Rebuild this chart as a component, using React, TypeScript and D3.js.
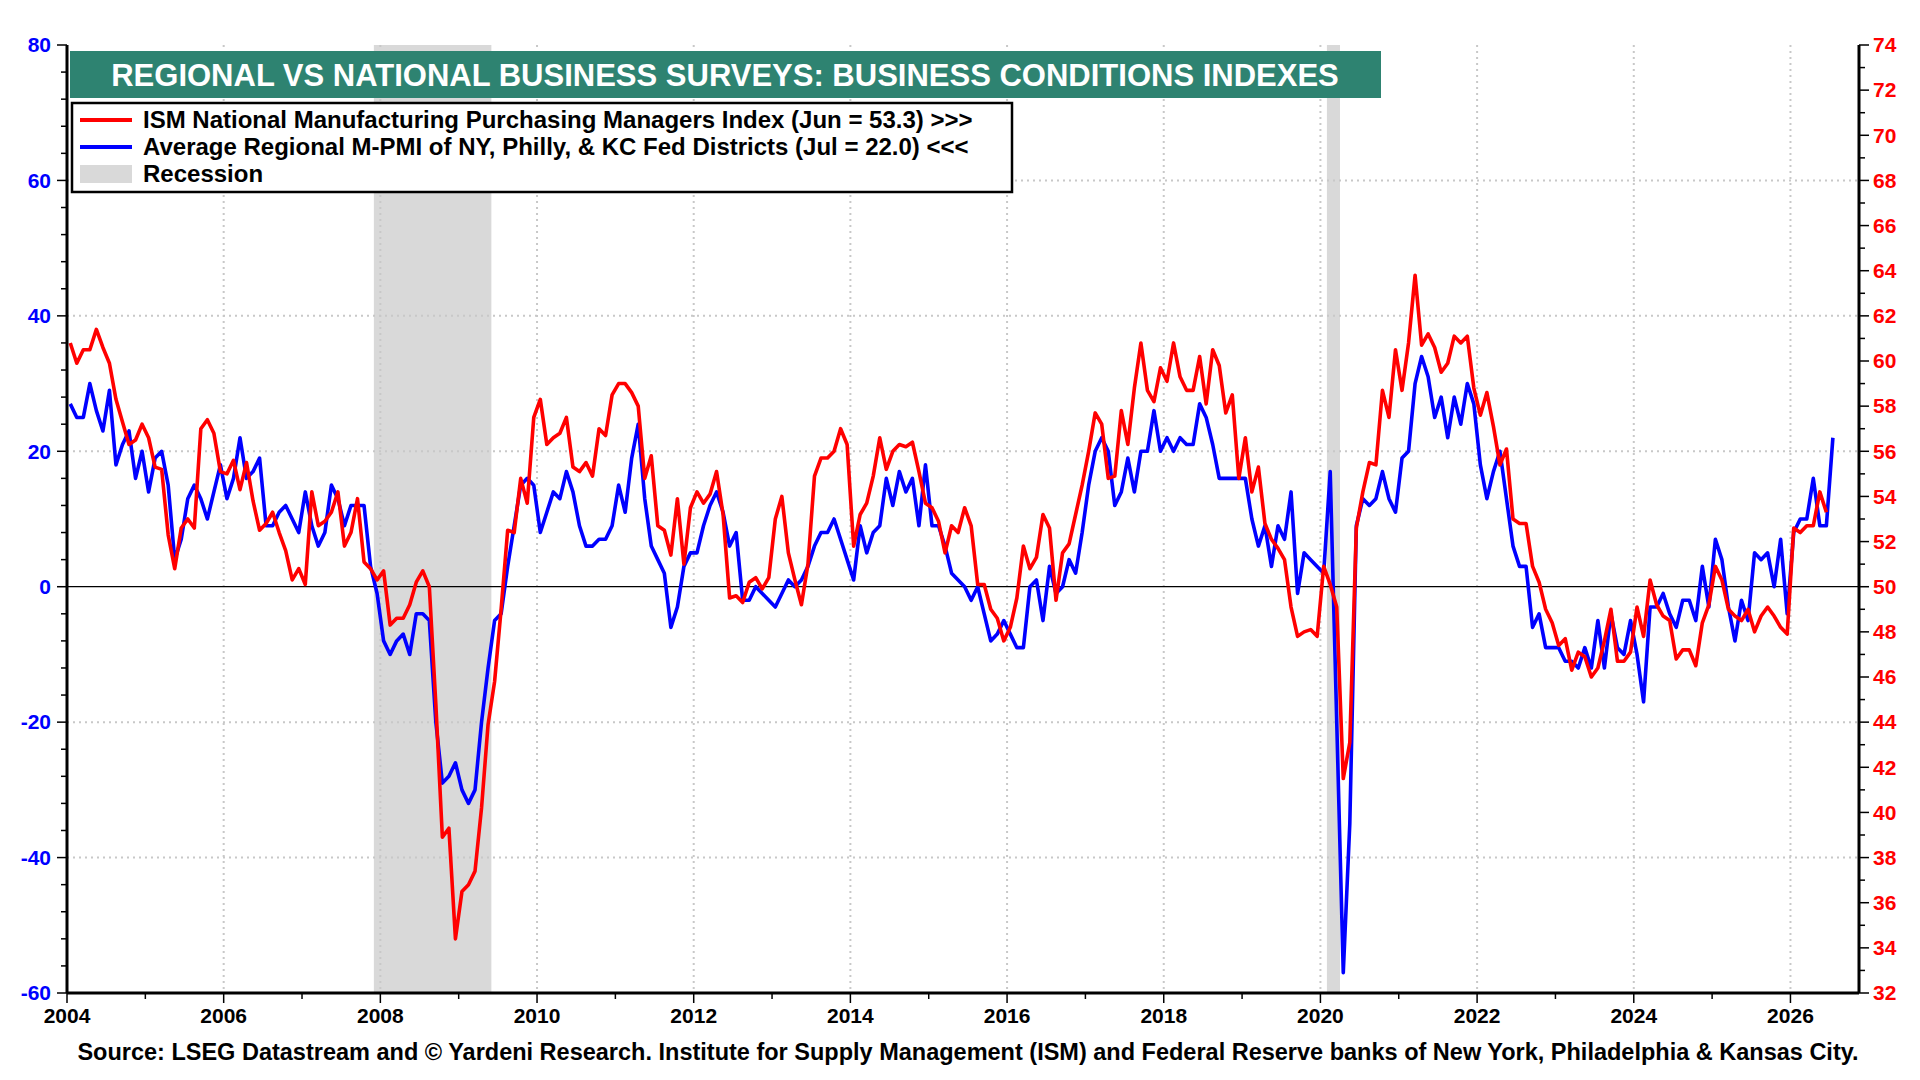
import { useEffect, useRef } from 'react';
import * as d3 from 'd3';

const startYear = 2004;
// Average regional M-PMI (left axis), monthly from Jan 2004 to Jul 2026
const regional: number[] = [
  27, 25, 25, 30, 26, 23, 29, 18, 21, 23, 16, 20,
  14, 19, 20, 15, 4, 7, 13, 15, 13, 10, 14, 18,
  13, 16, 22, 16, 17, 19, 9, 9, 11, 12, 10, 8,
  14, 9, 6, 8, 15, 13, 9, 12, 12, 12, 3, -1,
  -8, -10, -8, -7, -10, -4, -4, -5, -20, -29, -28, -26,
  -30, -32, -30, -20, -12, -5, -4, 3, 9, 15, 16, 15,
  8, 11, 14, 13, 17, 14, 9, 6, 6, 7, 7, 9,
  15, 11, 19, 24, 13, 6, 4, 2, -6, -3, 3, 5,
  5, 9, 12, 14, 11, 6, 8, -2, -2, 0, -1, -2,
  -3, -1, 1, 0, 1, 3, 6, 8, 8, 10, 7, 4,
  1, 9, 5, 8, 9, 16, 12, 17, 14, 16, 9, 18,
  9, 9, 6, 2, 1, 0, -2, 0, -4, -8, -7, -5,
  -7, -9, -9, 0, 1, -5, 3, -1, 0, 4, 2, 8,
  15, 20, 22, 20, 12, 14, 19, 14, 20, 20, 26, 20,
  22, 20, 22, 21, 21, 27, 25, 21, 16, 16, 16, 16,
  16, 10, 6, 9, 3, 9, 7, 14, -1, 5, 4, 3,
  2, 17, -20, -57, -35, 9, 13, 12, 13, 17, 13, 11,
  19, 20, 30, 34, 31, 25, 28, 22, 28, 24, 30, 27,
  18, 13, 17, 20, 13, 6, 3, 3, -6, -4, -9, -9,
  -9, -11, -11, -12, -9, -12, -5, -12, -4, -9, -10, -5,
  -10, -17, -3, -3, -1, -4, -6, -2, -2, -5, 3, -3,
  7, 4, -3, -8, -2, -5, 5, 4, 5, 0, 7, -4,
  8, 10, 10, 16, 9, 9, 22,
];
// ISM manufacturing PMI (right axis), monthly from Jan 2004 to Jun 2026
const ism: number[] = [
  60.8, 59.9, 60.5, 60.5, 61.4, 60.6, 59.9, 58.3, 57.3, 56.3, 56.5, 57.2,
  56.6, 55.3, 55.2, 52.3, 50.8, 52.6, 53.0, 52.6, 57.0, 57.4, 56.8, 55.1,
  55.0, 55.6, 54.3, 55.5, 53.8, 52.5, 52.8, 53.3, 52.4, 51.6, 50.3, 50.8,
  50.1, 54.2, 52.7, 52.9, 53.3, 54.2, 51.8, 52.4, 53.9, 51.1, 50.8, 50.3,
  50.7, 48.3, 48.6, 48.6, 49.2, 50.2, 50.7, 50.0, 44.8, 38.9, 39.3, 34.4,
  36.5, 36.8, 37.4, 40.2, 43.9, 45.8, 49.0, 52.5, 52.4, 54.8, 53.7, 57.5,
  58.3, 56.3, 56.6, 56.8, 57.5, 55.3, 55.1, 55.5, 54.9, 57.0, 56.7, 58.5,
  59.0, 59.0, 58.6, 58.0, 54.8, 55.8, 52.7, 52.5, 51.4, 53.9, 51.0, 53.5,
  54.2, 53.7, 54.1, 55.1, 53.2, 49.5, 49.6, 49.3, 50.2, 50.4, 49.9, 50.4,
  53.0, 54.0, 51.5, 50.3, 49.2, 51.0, 54.9, 55.7, 55.7, 56.0, 57.0, 56.3,
  51.8, 53.2, 53.7, 54.9, 56.6, 55.2, 56.0, 56.3, 56.2, 56.4, 55.1, 53.7,
  53.5, 52.9, 51.5, 52.7, 52.4, 53.5, 52.7, 50.1, 50.1, 49.0, 48.6, 47.6,
  48.2, 49.5, 51.8, 50.8, 51.3, 53.2, 52.6, 49.4, 51.5, 51.9, 53.2, 54.5,
  56.0, 57.7, 57.2, 54.8, 54.9, 57.8, 56.3, 58.8, 60.8, 58.7, 58.2, 59.7,
  59.1, 60.8, 59.3, 58.7, 58.7, 60.2, 58.1, 60.5, 59.8, 57.7, 58.5, 54.8,
  56.6, 54.2, 55.3, 52.8, 52.1, 51.7, 51.2, 49.1, 47.8, 48.0, 48.1, 47.8,
  50.9, 50.1, 49.1, 41.5, 43.1, 52.6, 54.2, 55.5, 55.4, 58.7, 57.5, 60.5,
  58.7, 60.8, 63.8, 60.7, 61.2, 60.6, 59.5, 59.9, 61.1, 60.8, 61.1, 58.8,
  57.6, 58.6, 57.1, 55.4, 56.1, 53.0, 52.8, 52.8, 50.9, 50.2, 49.0, 48.4,
  47.4, 47.7, 46.3, 47.1, 46.9, 46.0, 46.4, 47.6, 49.0, 46.7, 46.7, 47.1,
  49.1, 47.8, 50.3, 49.2, 48.7, 48.5, 46.8, 47.2, 47.2, 46.5, 48.4, 49.2,
  50.9, 50.3, 49.0, 48.7, 48.5, 49.0, 48.0, 48.7, 49.1, 48.7, 48.2, 47.9,
  52.6, 52.4, 52.7, 52.7, 54.2, 53.3,
];
const recessions: [number, number][] = [
  [2007.917, 2009.417],
  [2020.083, 2020.25],
];
const leftTicks = [80, 60, 40, 20, 0, -20, -40, -60];
const rightTicks = d3.range(32, 75, 2);
const yearTicks = d3.range(2004, 2027, 2);
const legendItems = [
  { label: 'ISM National Manufacturing Purchasing Managers Index (Jun = 53.3) >>>', color: '#ff0000', kind: 'line' },
  { label: 'Average Regional M-PMI of NY, Philly, & KC Fed Districts (Jul = 22.0) <<<', color: '#0000ff', kind: 'line' },
  { label: 'Recession', color: '#d9d9d9', kind: 'box' },
];

const W = 1920;
const H = 1080;
const M = { left: 67, right: 1859, top: 45, bottom: 993 };

export default function App() {
  const ref = useRef<SVGSVGElement>(null);

  useEffect(() => {
    if (!ref.current) return;
    const svg = d3.select(ref.current);
    svg.selectAll('*').remove();
    const font = 'Arial, "Liberation Sans", sans-serif';

    const x = d3.scaleLinear().domain([2004, 2026.875]).range([M.left, M.right]);
    const yL = d3.scaleLinear().domain([-60, 80]).range([M.bottom, M.top]);
    const yR = d3.scaleLinear().domain([32, 74]).range([M.bottom, M.top]);
    const t = (i: number) => startYear + (i + 0.5) / 12;

    // recession bands
    svg.selectAll('rect.rec').data(recessions).enter().append('rect')
      .attr('x', d => x(d[0])).attr('width', d => x(d[1]) - x(d[0]))
      .attr('y', M.top).attr('height', M.bottom - M.top).attr('fill', '#d9d9d9');

    // grid
    const grid = svg.append('g').attr('stroke', '#c8c8c8').attr('stroke-width', 2).attr('stroke-dasharray', '2,4');
    leftTicks.filter(v => v !== 0 && v !== 80 && v !== -60).forEach(v =>
      grid.append('line').attr('x1', M.left).attr('x2', M.right).attr('y1', yL(v)).attr('y2', yL(v)));
    yearTicks.filter(v => v !== 2004).forEach(v =>
      grid.append('line').attr('x1', x(v)).attr('x2', x(v)).attr('y1', M.top).attr('y2', M.bottom));
    svg.append('line').attr('x1', M.left).attr('x2', M.right).attr('y1', yL(0)).attr('y2', yL(0))
      .attr('stroke', '#000').attr('stroke-width', 1.2);

    // lines
    const lineL = d3.line<number>().x((_, i) => x(t(i))).y(d => yL(d));
    const lineR = d3.line<number>().x((_, i) => x(t(i))).y(d => yR(d));
    svg.append('path').attr('d', lineL(regional)).attr('fill', 'none').attr('stroke', '#0000ff')
      .attr('stroke-width', 3.6).attr('stroke-linejoin', 'round');
    svg.append('path').attr('d', lineR(ism)).attr('fill', 'none').attr('stroke', '#ff0000')
      .attr('stroke-width', 3.6).attr('stroke-linejoin', 'round');

    // axes frame
    svg.append('line').attr('x1', M.left).attr('x2', M.left).attr('y1', M.top).attr('y2', M.bottom).attr('stroke', '#000').attr('stroke-width', 3);
    svg.append('line').attr('x1', M.right).attr('x2', M.right).attr('y1', M.top).attr('y2', M.bottom).attr('stroke', '#000').attr('stroke-width', 3);
    svg.append('line').attr('x1', M.left).attr('x2', M.right).attr('y1', M.bottom).attr('y2', M.bottom).attr('stroke', '#000').attr('stroke-width', 3);

    const ticks = svg.append('g').attr('stroke', '#000').attr('stroke-width', 1.5);
    d3.range(-60, 81, 4).forEach(v => ticks.append('line').attr('x1', M.left - (v % 20 === 0 ? 10 : 6)).attr('x2', M.left).attr('y1', yL(v)).attr('y2', yL(v)));
    d3.range(32, 75, 1).forEach(v => ticks.append('line').attr('x1', M.right).attr('x2', M.right + (v % 2 === 0 ? 10 : 6)).attr('y1', yR(v)).attr('y2', yR(v)));
    d3.range(2004, 2027, 1).forEach(v => ticks.append('line').attr('x1', x(v)).attr('x2', x(v)).attr('y1', M.bottom).attr('y2', M.bottom + (v % 2 === 0 ? 10 : 6)));

    const lab = svg.append('g').attr('font-family', font).attr('font-weight', 'bold').attr('font-size', 21);
    leftTicks.forEach(v => lab.append('text').attr('x', M.left - 16).attr('y', yL(v)).attr('dy', '0.35em')
      .attr('text-anchor', 'end').attr('fill', '#0000ff').text(v));
    rightTicks.forEach(v => lab.append('text').attr('x', M.right + 14).attr('y', yR(v)).attr('dy', '0.35em')
      .attr('fill', '#ff0000').text(v));
    yearTicks.forEach(v => lab.append('text').attr('x', x(v)).attr('y', M.bottom + 30)
      .attr('text-anchor', 'middle').attr('fill', '#000').text(v));

    // title
    svg.append('rect').attr('x', 70).attr('y', 51).attr('width', 1311).attr('height', 47).attr('fill', '#2e8371');
    svg.append('text').attr('x', 725).attr('y', 75).attr('dy', '0.36em').attr('text-anchor', 'middle')
      .attr('font-family', font).attr('font-weight', 'bold').attr('font-size', 31).attr('fill', '#fff')
      .text('REGIONAL VS NATIONAL BUSINESS SURVEYS: BUSINESS CONDITIONS INDEXES');

    // legend
    svg.append('rect').attr('x', 72).attr('y', 103).attr('width', 940).attr('height', 89)
      .attr('fill', '#fff').attr('stroke', '#000').attr('stroke-width', 2.5);
    legendItems.forEach((d, i) => {
      const cy = 120 + i * 27;
      if (d.kind === 'line') {
        svg.append('line').attr('x1', 80).attr('x2', 132).attr('y1', cy).attr('y2', cy).attr('stroke', d.color).attr('stroke-width', 4);
      } else {
        svg.append('rect').attr('x', 80).attr('y', cy - 9).attr('width', 52).attr('height', 18).attr('fill', d.color);
      }
      svg.append('text').attr('x', 143).attr('y', cy).attr('dy', '0.35em').attr('font-family', font)
        .attr('font-weight', 'bold').attr('font-size', 24).attr('fill', '#000').text(d.label);
    });

    // source
    svg.append('text').attr('x', 968).attr('y', 1060).attr('text-anchor', 'middle').attr('font-family', font)
      .attr('font-weight', 'bold').attr('font-size', 23.5).attr('fill', '#000')
      .text('Source: LSEG Datastream and © Yardeni Research. Institute for Supply Management (ISM) and Federal Reserve banks of New York, Philadelphia & Kansas City.');
  }, []);

  return <svg ref={ref} width={W} height={H} style={{ display: 'block', position: 'absolute', left: 0, top: 0, background: '#fff' }} />;
}
